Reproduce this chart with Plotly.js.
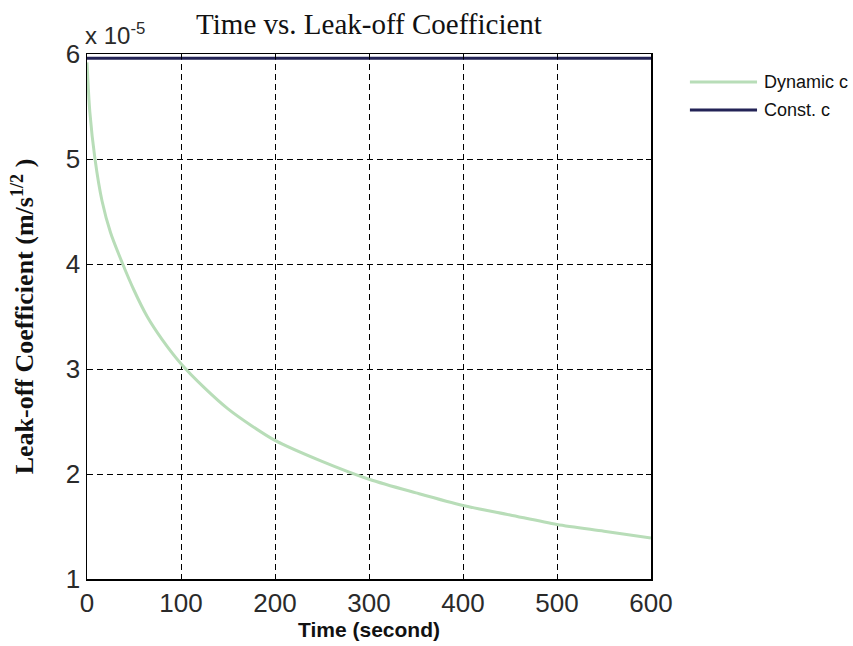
<!DOCTYPE html>
<html>
<head>
<meta charset="utf-8">
<script src="https://cdn.plot.ly/plotly-3.0.1.min.js"></script>
<style>
  html, body { margin: 0; padding: 0; background: #fff; }
  #chart { width: 853px; height: 646px; }
</style>
</head>
<body>
<div id="chart"></div>
<script>
// Time samples (s) and leak-off coefficient (units of 1e-5 m/s^1/2)
const timeDynamic = [0, 3, 8.5, 16, 25, 38, 50, 64, 80, 100, 125, 150, 175, 200, 250, 300, 350, 400, 450, 500, 550, 600];
const coefDynamic = [5.92, 5.45, 5.0, 4.6, 4.3, 4.0, 3.75, 3.5, 3.28, 3.05, 2.82, 2.62, 2.46, 2.32, 2.12, 1.95, 1.82, 1.70, 1.61, 1.52, 1.455, 1.39];
const timeConst = [0, 600];
const coefConst = [5.96, 5.96];
const seriesNames = ['Dynamic c', 'Const. c'];
const xTicks = [0, 100, 200, 300, 400, 500, 600];
const yTicks = [1, 2, 3, 4, 5, 6];

const seriesColors = ['#b8ddb8', '#232356'];

const traces = [
  {
    x: timeDynamic, y: coefDynamic, name: seriesNames[0], type: 'scatter', mode: 'lines',
    line: { color: seriesColors[0], width: 3, shape: 'spline', smoothing: 0.8 }
  },
  {
    x: timeConst, y: coefConst, name: seriesNames[1], type: 'scatter', mode: 'lines',
    line: { color: seriesColors[1], width: 3 }
  }
];

// Legend drawn to the right of the axes, with long line samples
const legendShapes = [];
const legendLabels = [];
const legendTop = 0.9467, legendStep = 0.0533;
traces.forEach((tr, i) => {
  const yy = legendTop - i * legendStep;
  legendShapes.push({
    type: 'line', xref: 'paper', yref: 'paper', x0: 1.069, x1: 1.188, y0: yy, y1: yy,
    line: { color: tr.line.color, width: 3 }
  });
  legendLabels.push({
    text: tr.name, xref: 'paper', yref: 'paper', x: 1.197, y: yy,
    xanchor: 'left', yanchor: 'middle', showarrow: false,
    font: { family: 'Liberation Sans, Arial, sans-serif', size: 18, color: '#111' }
  });
});

const axisCommon = {
  showline: true, mirror: 'ticks', linecolor: '#000', linewidth: 1.5,
  ticks: 'inside', ticklen: 5, tickcolor: '#000',
  showgrid: true, gridcolor: '#000', griddash: '6px,4px', gridwidth: 1,
  zeroline: false,
  tickfont: { family: 'Liberation Sans, Arial, sans-serif', size: 26, color: '#2a2a2a' }
};

const layout = {
  width: 853, height: 646,
  margin: { l: 87, r: 202, t: 54, b: 67 },
  paper_bgcolor: '#fff', plot_bgcolor: '#fff',
  showlegend: false,
  shapes: legendShapes,
  title: {
    text: 'Time vs. Leak-off Coefficient',
    font: { family: 'Liberation Serif, Times New Roman, serif', size: 29, color: '#111' },
    x: 0.5, xanchor: 'center', xref: 'paper', yref: 'container', y: 0.963, yanchor: 'middle'
  },
  xaxis: Object.assign({}, axisCommon, {
    range: [0, 600], tickvals: xTicks, ticktext: xTicks.map(String),
    title: { text: 'Time (second)', standoff: 3,
      font: { family: 'Liberation Sans, Arial, sans-serif', size: 21, color: '#111', weight: 'bold' } }
  }),
  yaxis: Object.assign({}, axisCommon, {
    range: [1, 6], tickvals: yTicks, ticktext: yTicks.map(String),
    title: { text: 'Leak-off Coefficient (m/s<sup>1/2</sup> )', standoff: 24,
      font: { family: 'Liberation Serif, Times New Roman, serif', size: 26, color: '#111', weight: 'bold' } }
  }),
  annotations: [
    {
      text: 'x 10<sup>-5</sup>', xref: 'paper', yref: 'paper', x: 0, y: 1.0,
      xanchor: 'left', yanchor: 'bottom', showarrow: false, xshift: -4, yshift: 3,
      font: { family: 'Liberation Sans, Arial, sans-serif', size: 24, color: '#2a2a2a' }
    }
  ].concat(legendLabels)
};

Plotly.newPlot('chart', traces, layout, { displayModeBar: false, staticPlot: true });
</script>
</body>
</html>
